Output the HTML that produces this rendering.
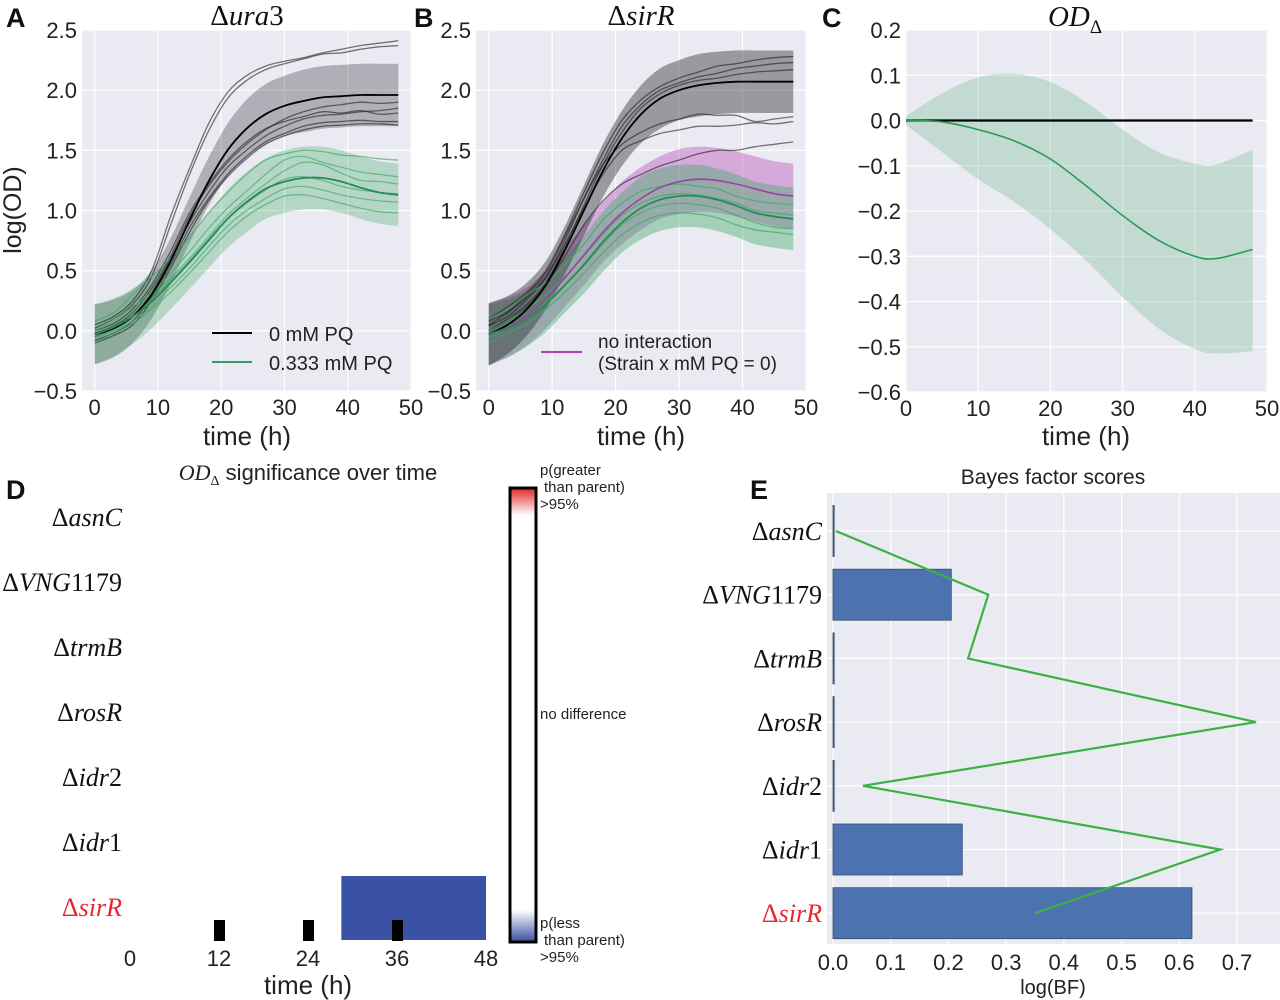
<!DOCTYPE html>
<html><head><meta charset="utf-8">
<style>
html,body{margin:0;padding:0;background:#fff;}
svg{display:block;font-family:"Liberation Sans",sans-serif;}
.tk{font-size:22px;fill:#222;}
.ser{font-family:"Liberation Serif",serif;font-style:italic;}
</style></head>
<body>
<svg id="fig" width="1280" height="1000" viewBox="0 0 1280 1000" xmlns="http://www.w3.org/2000/svg">
<defs>
<linearGradient id="cbg" x1="0" y1="0" x2="0" y2="1">
<stop offset="0" stop-color="#e3262a"/><stop offset="0.06" stop-color="#ffffff"/>
<stop offset="0.93" stop-color="#ffffff"/><stop offset="1" stop-color="#3b4ea0"/>
</linearGradient>
</defs>
</svg>
<script>
// ---------- DATA ----------
const tGrid = [0,3,6,9,12,15,18,21,24,27,30,33,36,39,42,45,48];
// Panel A (Δura3)
const aBlackMean = [-0.03,0.02,0.12,0.30,0.58,0.92,1.24,1.50,1.68,1.80,1.87,1.91,1.94,1.95,1.96,1.96,1.96];
const aBlackHalf = [0.25,0.24,0.22,0.2,0.19,0.19,0.2,0.22,0.24,0.25,0.25,0.26,0.26,0.26,0.26,0.26,0.26];
const aGreenMean = [-0.03,0.03,0.12,0.24,0.40,0.57,0.75,0.93,1.07,1.18,1.24,1.27,1.27,1.24,1.19,1.15,1.13];
const aGreenHalf = [0.25,0.24,0.23,0.22,0.22,0.22,0.23,0.24,0.25,0.25,0.26,0.26,0.26,0.26,0.26,0.26,0.26];
const aBlackReps = [
 [0.05,0.12,0.25,0.5,0.95,1.35,1.72,1.98,2.12,2.2,2.24,2.27,2.31,2.34,2.37,2.39,2.41],
 [0.02,0.1,0.22,0.45,0.88,1.3,1.66,1.93,2.08,2.17,2.22,2.26,2.3,2.31,2.34,2.36,2.37],
 [-0.05,0.02,0.12,0.32,0.6,0.9,1.15,1.36,1.5,1.62,1.7,1.76,1.79,1.8,1.82,1.83,1.85],
 [-0.08,-0.02,0.08,0.28,0.55,0.86,1.1,1.3,1.45,1.57,1.64,1.7,1.73,1.74,1.75,1.74,1.74],
 [-0.02,0.04,0.15,0.35,0.62,0.95,1.2,1.4,1.55,1.67,1.76,1.82,1.86,1.88,1.9,1.89,1.9],
 [-0.1,-0.04,0.05,0.25,0.52,0.82,1.08,1.28,1.43,1.55,1.62,1.67,1.7,1.71,1.72,1.72,1.71],
 [0.0,0.06,0.18,0.38,0.66,0.98,1.22,1.42,1.57,1.68,1.74,1.78,1.82,1.81,1.83,1.8,1.81]
];
const aGreenReps = [
 [0.08,0.15,0.3,0.45,0.6,0.78,0.98,1.15,1.3,1.42,1.47,1.5,1.49,1.46,1.45,1.43,1.42],
 [0.0,0.08,0.2,0.32,0.48,0.66,0.85,1.02,1.16,1.3,1.42,1.45,1.4,1.36,1.32,1.3,1.28],
 [-0.05,0.03,0.12,0.26,0.42,0.58,0.76,0.93,1.06,1.17,1.26,1.28,1.25,1.2,1.17,1.15,1.14],
 [-0.07,0.0,0.08,0.2,0.36,0.52,0.7,0.87,1.0,1.1,1.18,1.2,1.17,1.13,1.1,1.08,1.07],
 [-0.1,-0.02,0.06,0.18,0.32,0.48,0.65,0.82,0.95,1.05,1.12,1.13,1.1,1.06,1.02,0.99,0.98],
 [0.03,0.1,0.2,0.3,0.44,0.6,0.78,0.96,1.1,1.22,1.33,1.4,1.38,1.31,1.25,1.24,1.22]
];
// Panel B (ΔsirR)
const bBlackMean = [-0.03,0.05,0.18,0.38,0.67,1.00,1.33,1.60,1.80,1.93,2.00,2.04,2.06,2.07,2.07,2.07,2.07];
const bBlackHalf = [0.26,0.24,0.22,0.2,0.2,0.21,0.22,0.23,0.24,0.25,0.25,0.26,0.26,0.26,0.26,0.26,0.26];
const bMagMean = [-0.03,0.03,0.12,0.26,0.44,0.63,0.82,0.98,1.1,1.19,1.24,1.26,1.25,1.22,1.18,1.14,1.12];
const bMagHalf = [0.26,0.25,0.24,0.24,0.24,0.25,0.25,0.26,0.26,0.26,0.27,0.27,0.27,0.27,0.27,0.27,0.27];
const bGreenMean = [-0.03,0.02,0.10,0.22,0.38,0.55,0.74,0.90,1.02,1.09,1.12,1.12,1.09,1.04,0.98,0.95,0.93];
const bGreenHalf = [0.25,0.24,0.23,0.23,0.23,0.24,0.25,0.25,0.26,0.26,0.26,0.26,0.26,0.26,0.26,0.26,0.26];
const bBlackReps = [
 [0.1,0.2,0.32,0.5,0.8,1.15,1.48,1.75,1.92,2.03,2.1,2.15,2.2,2.22,2.25,2.27,2.28],
 [0.05,0.15,0.28,0.45,0.75,1.1,1.42,1.7,1.88,2.0,2.06,2.11,2.14,2.18,2.2,2.22,2.23],
 [0.0,0.1,0.22,0.4,0.7,1.04,1.38,1.65,1.85,1.97,2.04,2.08,2.1,2.13,2.15,2.16,2.17],
 [0.08,0.16,0.3,0.48,0.78,1.1,1.38,1.55,1.65,1.72,1.76,1.8,1.79,1.79,1.74,1.76,1.78],
 [0.04,0.12,0.26,0.44,0.72,1.02,1.3,1.5,1.58,1.64,1.67,1.7,1.7,1.71,1.73,1.72,1.74],
 [0.0,0.08,0.2,0.38,0.62,0.88,1.08,1.22,1.3,1.37,1.42,1.47,1.5,1.5,1.53,1.55,1.57]
];
const bGreenReps = [
 [0.1,0.18,0.3,0.4,0.55,0.72,0.92,1.06,1.16,1.2,1.22,1.2,1.18,1.12,1.08,1.06,1.05],
 [0.0,0.08,0.18,0.3,0.45,0.62,0.8,0.96,1.06,1.12,1.14,1.13,1.1,1.06,1.0,0.98,0.96],
 [-0.06,0.02,0.12,0.24,0.38,0.54,0.72,0.88,0.98,1.04,1.06,1.05,1.02,0.96,0.9,0.86,0.85],
 [-0.1,-0.02,0.06,0.18,0.32,0.48,0.65,0.8,0.9,0.96,0.98,0.97,0.94,0.88,0.84,0.82,0.8]
];
// Panel C (OD_Δ)
const cT = [0,5,10,15,20,25,30,35,40,43,48];
const cMean = [0,-0.003,-0.02,-0.045,-0.085,-0.145,-0.21,-0.265,-0.3,-0.305,-0.285];
const cUpper = [0.01,0.06,0.095,0.103,0.085,0.04,-0.02,-0.07,-0.095,-0.097,-0.065];
const cLower = [-0.01,-0.07,-0.13,-0.18,-0.24,-0.31,-0.39,-0.46,-0.505,-0.515,-0.51];
// Panel D (heatmap)
const dStrains = ["asnC","VNG","trmB","rosR","idr2","idr1","sirR"];
const dSigStart = [null,null,null,null,null,null,28.5];
const dSigEnd = [null,null,null,null,null,null,48];
const dTicks = [0,12,24,36,48];
// Panel E (Bayes factor)
const eBars = [0,0.205,0,0,0,0.224,0.622];
const eLine = [0.005,0.269,0.234,0.733,0.052,0.671,0.35];
const eTicks = [0,0.1,0.2,0.3,0.4,0.5,0.6,0.7];

// ---------- HELPERS ----------
const NS="http://www.w3.org/2000/svg";
const svg=document.getElementById('fig');
function mk(tag,attrs,parent){const e=document.createElementNS(NS,tag);for(const k in attrs)e.setAttribute(k,attrs[k]);(parent||svg).appendChild(e);return e;}
function lin(d0,d1,r0,r1){return v=>r0+(v-d0)*(r1-r0)/(d1-d0);}
function txt(x,y,s,attrs,parent){const e=mk('text',Object.assign({x:x,y:y},attrs||{}),parent);e.textContent=s;return e;}
function pts(xs,ys,sx,sy){return xs.map((t,i)=>[sx(t),sy(ys[i])]);}
function smooth(P,move){
  let d=(move?'M':'L')+P[0][0].toFixed(1)+','+P[0][1].toFixed(1);
  for(let i=0;i<P.length-1;i++){
    const p0=P[Math.max(i-1,0)],p1=P[i],p2=P[i+1],p3=P[Math.min(i+2,P.length-1)];
    const c1=[p1[0]+(p2[0]-p0[0])/6,p1[1]+(p2[1]-p0[1])/6], c2=[p2[0]-(p3[0]-p1[0])/6,p2[1]-(p3[1]-p1[1])/6];
    d+='C'+c1[0].toFixed(1)+','+c1[1].toFixed(1)+' '+c2[0].toFixed(1)+','+c2[1].toFixed(1)+' '+p2[0].toFixed(1)+','+p2[1].toFixed(1);
  }
  return d;
}
function pathFrom(xs,ys,sx,sy){return smooth(pts(xs,ys,sx,sy),true);}
function bandPath(xs,lo,hi,sx,sy){const up=pts(xs,hi,sx,sy), dn=pts(xs,lo,sx,sy).reverse();return smooth(up,true)+smooth(dn,false)+'Z';}
function fmt(v,dec){const s=Math.abs(v).toFixed(dec);return (v<-1e-9?'\u2212':'')+s;}

function axesPanel(g,x0,x1,y0,y1,xd,yd,xticks,yticks,ydec){
  const sx=lin(xd[0],xd[1],x0,x1), sy=lin(yd[0],yd[1],y1,y0);
  const bg=mk('rect',{x:x0,y:y0,width:x1-x0,height:y1-y0,fill:'#eaeaf2'},g);
  
  
  xticks.forEach(v=>{mk('line',{x1:sx(v),x2:sx(v),y1:y0,y2:y1,stroke:'#fff','stroke-width':1.2},g);
    const t=txt(sx(v),y1+24,String(v),{class:'tk','text-anchor':'middle'},g);
    
    });
  yticks.forEach(v=>{mk('line',{x1:x0,x2:x1,y1:sy(v),y2:sy(v),stroke:'#fff','stroke-width':1.2},g);
    const t=txt(x0-5,sy(v)+8,fmt(v,ydec),{class:'tk','text-anchor':'end'},g);
    
    });
  return {sx,sy};
}
function group(name){const g=mk('g',{});return g;}

// ---------- PANEL A ----------
(function(){
 const g=group('panel-a');
 const {sx,sy}=axesPanel(g,82,411,30,391,[-2,50],[-0.5,2.5],[0,10,20,30,40,50],[-0.5,0,0.5,1,1.5,2,2.5],1);
 const lo=(m,h)=>m.map((v,i)=>v-h[i]), hi=(m,h)=>m.map((v,i)=>v+h[i]);
 const b1=mk('path',{d:bandPath(tGrid,lo(aBlackMean,aBlackHalf),hi(aBlackMean,aBlackHalf),sx,sy),fill:'rgba(40,40,45,0.3)'},g);
 
 
 const b2=mk('path',{d:bandPath(tGrid,lo(aGreenMean,aGreenHalf),hi(aGreenMean,aGreenHalf),sx,sy),fill:'rgba(60,170,100,0.3)'},g);
 
 
 aBlackReps.forEach(r=>{const p=mk('path',{d:pathFrom(tGrid,r,sx,sy),fill:'none',stroke:'rgba(30,30,30,0.6)','stroke-width':1.3},g);
   
   });
 aGreenReps.forEach(r=>{const p=mk('path',{d:pathFrom(tGrid,r,sx,sy),fill:'none',stroke:'rgba(60,170,100,0.65)','stroke-width':1.3},g);
   
   });
 const m1=mk('path',{d:pathFrom(tGrid,aBlackMean,sx,sy),fill:'none',stroke:'#000','stroke-width':1.8},g);
 
 
 const m2=mk('path',{d:pathFrom(tGrid,aGreenMean,sx,sy),fill:'none',stroke:'#2a8a55','stroke-width':1.8},g);
 
 
 mk('line',{x1:212,x2:252,y1:333,y2:333,stroke:'#000','stroke-width':2},g);
 txt(269,341,'0 mM PQ',{style:'font-size:20px;fill:#222'},g);
 mk('line',{x1:212,x2:252,y1:362,y2:362,stroke:'#3a9a60','stroke-width':2},g);
 txt(269,370,'0.333 mM PQ',{style:'font-size:20px;fill:#222'},g);
 const yl=txt(0,0,'log(OD)',{style:'font-size:25px;fill:#222','text-anchor':'middle',transform:'translate(21,210) rotate(-90)'},g);
 
 
 txt(247,445,'time (h)',{style:'font-size:26px;fill:#222','text-anchor':'middle'},g);
 const tt=txt(247,25,'',{style:'font-size:29px;fill:#111','text-anchor':'middle'},g);
 tt.innerHTML='<tspan font-family="Liberation Serif">\u0394</tspan><tspan class="ser">ura</tspan><tspan font-family="Liberation Serif">3</tspan>';
 txt(6,27,'A',{style:'font-size:27px;font-weight:bold;fill:#111'},g);
})();

// ---------- PANEL B ----------
(function(){
 const g=group('panel-b');
 const {sx,sy}=axesPanel(g,476,806,30,391,[-2,50],[-0.5,2.5],[0,10,20,30,40,50],[-0.5,0,0.5,1,1.5,2,2.5],1);
 const lo=(m,h)=>m.map((v,i)=>v-h[i]), hi=(m,h)=>m.map((v,i)=>v+h[i]);
 const b3=mk('path',{d:bandPath(tGrid,lo(bMagMean,bMagHalf),hi(bMagMean,bMagHalf),sx,sy),fill:'rgba(190,90,190,0.45)'},g);
 
 
 const b2=mk('path',{d:bandPath(tGrid,lo(bGreenMean,bGreenHalf),hi(bGreenMean,bGreenHalf),sx,sy),fill:'rgba(60,170,100,0.4)'},g);
 
 
 const b1=mk('path',{d:bandPath(tGrid,lo(bBlackMean,bBlackHalf),hi(bBlackMean,bBlackHalf),sx,sy),fill:'rgba(40,40,45,0.42)'},g);
 
 
 bBlackReps.forEach(r=>{const p=mk('path',{d:pathFrom(tGrid,r,sx,sy),fill:'none',stroke:'rgba(30,30,30,0.6)','stroke-width':1.3},g);
   
   });
 bGreenReps.forEach(r=>{const p=mk('path',{d:pathFrom(tGrid,r,sx,sy),fill:'none',stroke:'rgba(60,170,100,0.7)','stroke-width':1.3},g);
   
   });
 const m1=mk('path',{d:pathFrom(tGrid,bBlackMean,sx,sy),fill:'none',stroke:'#000','stroke-width':1.8},g);
 
 
 const m3=mk('path',{d:pathFrom(tGrid,bMagMean,sx,sy),fill:'none',stroke:'#a040a0','stroke-width':1.6},g);
 
 
 const m2=mk('path',{d:pathFrom(tGrid,bGreenMean,sx,sy),fill:'none',stroke:'#2a8a55','stroke-width':1.8},g);
 
 
 mk('line',{x1:541,x2:582,y1:352,y2:352,stroke:'#b040b0','stroke-width':2},g);
 txt(598,348,'no interaction',{style:'font-size:19px;fill:#222'},g);
 txt(598,370,'(Strain x mM PQ = 0)',{style:'font-size:19px;fill:#222'},g);
 txt(641,445,'time (h)',{style:'font-size:26px;fill:#222','text-anchor':'middle'},g);
 const tt=txt(641,25,'',{style:'font-size:29px;fill:#111','text-anchor':'middle'},g);
 tt.innerHTML='<tspan font-family="Liberation Serif">\u0394</tspan><tspan class="ser">sirR</tspan>';
 txt(414,27,'B',{style:'font-size:27px;font-weight:bold;fill:#111'},g);
})();

// ---------- PANEL C ----------
(function(){
 const g=group('panel-c');
 const {sx,sy}=axesPanel(g,906,1267,30,392,[0,50],[-0.6,0.2],[0,10,20,30,40,50],[-0.6,-0.5,-0.4,-0.3,-0.2,-0.1,0,0.1,0.2],1);
 const b=mk('path',{d:bandPath(cT,cLower,cUpper,sx,sy),fill:'rgba(120,190,150,0.35)'},g);
 
 
 const z=mk('line',{x1:sx(0),x2:sx(48),y1:sy(0),y2:sy(0),stroke:'#000','stroke-width':2.2},g);
 
 
 const m=mk('path',{d:pathFrom(cT,cMean,sx,sy),fill:'none',stroke:'#2a9a55','stroke-width':1.6},g);
 
 
 txt(1086,445,'time (h)',{style:'font-size:26px;fill:#222','text-anchor':'middle'},g);
 const tt=txt(1075,26,'',{style:'font-size:29px;fill:#111','text-anchor':'middle'},g);
 tt.innerHTML='<tspan class="ser">OD</tspan><tspan font-family="Liberation Serif" font-size="19" dy="7">\u0394</tspan>';
 txt(822,27,'C',{style:'font-size:27px;font-weight:bold;fill:#111'},g);
})();

// ---------- PANEL D ----------
function strainLabel(g,x,y,key,color,size){
 const t=txt(x,y,'',{'text-anchor':'end',style:'font-size:'+size+'px;fill:'+color},g);
 const parts={asnC:['asnC',''],VNG:['VNG','1179'],trmB:['trmB',''],rosR:['rosR',''],idr2:['idr','2'],idr1:['idr','1'],sirR:['sirR','']}[key];
 t.innerHTML='<tspan font-family="Liberation Serif">\u0394</tspan><tspan class="ser">'+parts[0]+'</tspan><tspan font-family="Liberation Serif">'+parts[1]+'</tspan>';
 
 
 return t;
}
(function(){
 const g=group('panel-d');
 const sx=lin(0,48,130,486);
 const rowY=i=>486+i*65;
 dStrains.forEach((s,i)=>{
   strainLabel(g,122,rowY(i)+40,s,s==='sirR'?'#e8262b':'#111',26);
   if(dSigStart[i]!==null){
     const r=mk('rect',{x:sx(dSigStart[i]),y:rowY(i),width:sx(dSigEnd[i])-sx(dSigStart[i]),height:64,fill:'#3a52a3'},g);
     
     
   }
 });
 [12,24,36].forEach(v=>{const m=mk('rect',{x:sx(v)-5,y:920,width:11,height:21,fill:'#000'},g);
   
   });
 dTicks.forEach(v=>{const t=txt(sx(v),966,String(v),{class:'tk','text-anchor':'middle'},g);
   
   });
 txt(308,994,'time (h)',{style:'font-size:26px;fill:#222','text-anchor':'middle'},g);
 const tt=txt(308,480,'',{style:'font-size:22px;fill:#222','text-anchor':'middle'},g);
 tt.innerHTML='<tspan class="ser" font-family="Liberation Serif">OD</tspan><tspan font-size="14" dy="5" font-family="Liberation Serif">\u0394</tspan><tspan dy="-5"> significance over time</tspan>';
 txt(6,499,'D',{style:'font-size:27px;font-weight:bold;fill:#111'},g);
 const cb=mk('rect',{x:510,y:488,width:26,height:454,fill:'url(#cbg)',stroke:'#000','stroke-width':3},g);
 
 
 const ls='font-size:15px;fill:#222';
 txt(540,475,'p(greater',{style:ls},g);txt(544,492,'than parent)',{style:ls},g);txt(540,509,'>95%',{style:ls},g);
 txt(540,719,'no difference',{style:ls},g);
 txt(540,928,'p(less',{style:ls},g);txt(544,945,'than parent)',{style:ls},g);txt(540,962,'>95%',{style:ls},g);
})();

// ---------- PANEL E ----------
(function(){
 const g=group('panel-e');
 const x0=827,x1=1280,y0=493,y1=944;
 const sx=lin(0,0.7,833,1237);
 const rowY=i=>531+i*63.7;
 const bg=mk('rect',{x:x0,y:y0,width:x1-x0,height:y1-y0,fill:'#eaeaf2'},g);
 
 
 eTicks.forEach(v=>{mk('line',{x1:sx(v),x2:sx(v),y1:y0,y2:y1,stroke:'#fff','stroke-width':1.2},g);
   const t=txt(sx(v),970,v.toFixed(1),{class:'tk','text-anchor':'middle'},g);
   
   });
 dStrains.forEach((s,i)=>{mk('line',{x1:x0,x2:x1,y1:rowY(i),y2:rowY(i),stroke:'#fff','stroke-width':1.2},g);
   strainLabel(g,822,rowY(i)+9,s,s==='sirR'?'#e8262b':'#111',26);});
 eBars.forEach((v,i)=>{
   const w=Math.max(sx(v)-sx(0),1.2);
   const r=mk('rect',{x:sx(0),y:rowY(i)-25.5,width:w,height:51,fill:'#4c72b0',stroke:'#3a4a6a','stroke-width':0.8},g);
   
   
 });
 const pl=mk('path',{d:eLine.map((v,i)=>(i?'L':'M')+sx(v).toFixed(1)+','+rowY(i).toFixed(1)).join(''),fill:'none',stroke:'#3cb043','stroke-width':2.2},g);
 
 
 txt(1053,994,'log(BF)',{style:'font-size:20px;fill:#222','text-anchor':'middle'},g);
 txt(1053,484,'Bayes factor scores',{style:'font-size:21px;fill:#222','text-anchor':'middle'},g);
 txt(750,499,'E',{style:'font-size:27px;font-weight:bold;fill:#111'},g);
})();
</script>
</body></html>
